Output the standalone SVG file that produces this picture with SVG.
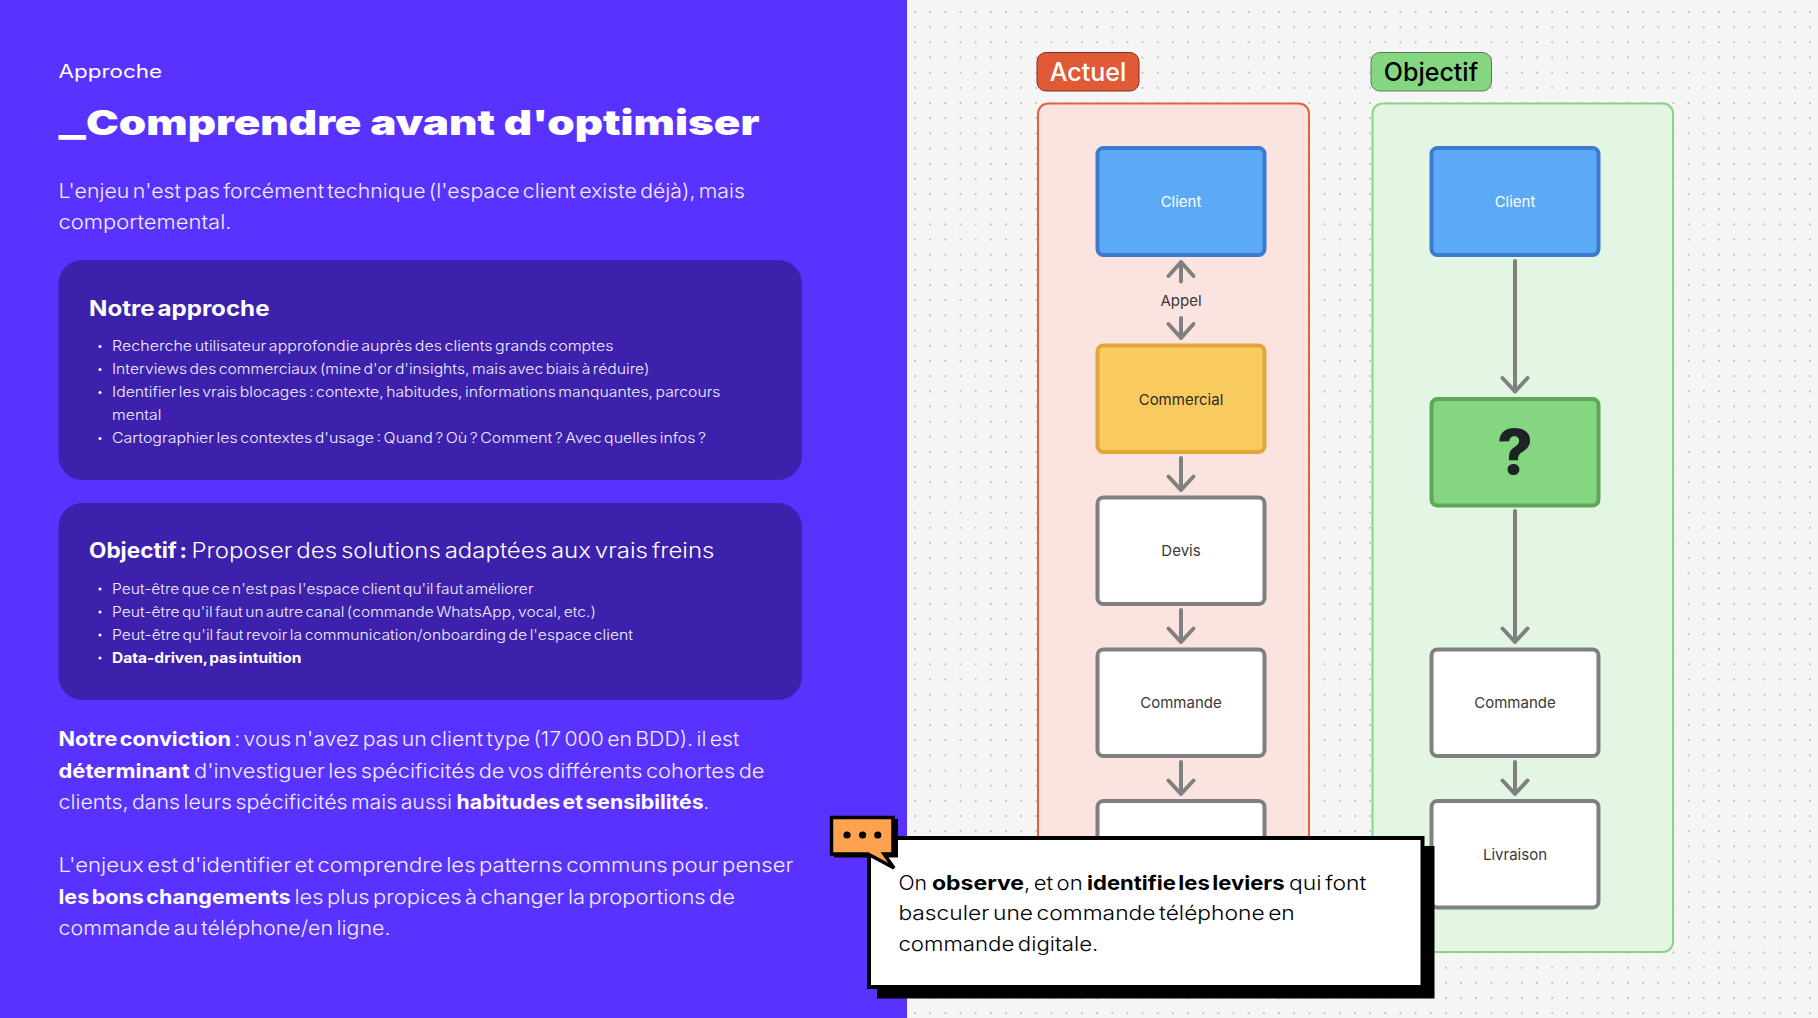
<svg xmlns="http://www.w3.org/2000/svg" width="1818" height="1018" viewBox="0 0 1818 1018">
<style>
text{font-family:Inter,"Liberation Sans",sans-serif}
.w{fill:#fff}
.b{font-size:20px;font-weight:300;fill:#f0edff;word-spacing:-2.5px}
.s{font-size:14.5px;font-weight:300;fill:#f0edff;word-spacing:-1.8px}
.bd{font-weight:700;fill:#fff}
.n{font-size:15px;text-anchor:middle;fill:#383838}
.nw{font-size:15px;text-anchor:middle;fill:#fff}
.card{fill:#3d21ad}
.white{fill:#fff;stroke:#808080;stroke-width:4}
.blue{fill:#5ca9f8;stroke:#3a7bd0;stroke-width:4}
.conn path{fill:none;stroke:#808080;stroke-width:4;stroke-linecap:round;stroke-linejoin:round}
.c{font-size:20px;font-weight:300;fill:#000;word-spacing:-2.5px}
.cb{font-weight:700;fill:#000}
</style>
<defs>
<pattern id="dots" patternUnits="userSpaceOnUse" x="907.4" y="4.4" width="15.17" height="15.17"><circle cx="7.6" cy="7.6" r="1" fill="#b4b4b4"/></pattern>
</defs>
<rect width="1818" height="1018" fill="#f5f5f5"/>
<rect x="907" width="911" height="1018" fill="url(#dots)"/>
<rect width="907" height="1018" fill="#5a32ff"/>

<g id="panel-actuel"><rect x="1038" y="103.500" width="271" height="848.500" rx="10" fill="#fbe3e0" stroke="#e5603c" stroke-width="2"/></g>
<g id="panel-objectif"><rect x="1372.500" y="103.500" width="300.500" height="848.500" rx="10" fill="#e2f6e3" stroke="#86d583" stroke-width="2"/></g>
<g id="label-actuel"><rect x="1037" y="52.500" width="102" height="38.500" rx="9" fill="#e05a36" stroke="#7a3220" stroke-width="1"/><text x="1088" y="81" text-anchor="middle" font-size="25" font-weight="550" fill="#fff">Actuel</text></g>
<g id="label-objectif"><rect x="1371" y="52.500" width="120.500" height="38.500" rx="9" fill="#85d681" stroke="#5c7a5a" stroke-width="1"/><text x="1431" y="81" text-anchor="middle" font-size="25" font-weight="550" fill="#000">Objectif</text></g>

<g id="connectors" class="conn">
<path d="M1181 281.500V262M1168.500 276L1181 262L1193.500 276"/>
<path d="M1181 318V338M1168.500 324L1181 338L1193.500 324"/>
<path d="M1181 458V490M1168.500 476.500L1181 490L1193.500 476.500"/>
<path d="M1181 610V642M1168.500 628.500L1181 642L1193.500 628.500"/>
<path d="M1181 762V794M1168.500 780.500L1181 794L1193.500 780.500"/>
<path d="M1515 261V391.500M1502.500 378L1515 391.500L1527.500 378"/>
<path d="M1515 511V642M1502.500 628.500L1515 642L1527.500 628.500"/>
<path d="M1515 762V794M1502.500 780.500L1515 794L1527.500 780.500"/>
</g>
<text id="label-appel" class="n" x="1181" y="306">Appel</text>

<g id="a-client"><rect class="blue" x="1097.500" y="148" width="167" height="107" rx="6"/><text class="nw" x="1181" y="206.500">Client</text></g>
<g id="a-commercial"><rect x="1097.500" y="345.500" width="167" height="106.500" rx="6" fill="#f9cb5f" stroke="#e0a63c" stroke-width="4"/><text class="n" x="1181" y="404.500" style="fill:#2a2a2a">Commercial</text></g>
<g id="a-devis"><rect class="white" x="1097.500" y="497.500" width="167" height="106.500" rx="6"/><text class="n" x="1181" y="556">Devis</text></g>
<g id="a-commande"><rect class="white" x="1097.500" y="649.500" width="167" height="106.500" rx="6"/><text class="n" x="1181" y="708">Commande</text></g>
<g id="a-livraison"><rect class="white" x="1097.500" y="801" width="167" height="106.500" rx="6"/></g>
<g id="o-client"><rect class="blue" x="1431.500" y="148" width="167" height="107" rx="6"/><text class="nw" x="1515" y="206.500">Client</text></g>
<g id="o-question"><rect x="1431.500" y="399" width="167" height="106.500" rx="6" fill="#85d681" stroke="#5ea65a" stroke-width="4"/><text x="1515" y="474" text-anchor="middle" font-size="62" font-weight="800" fill="#1f2328">?</text></g>
<g id="o-commande"><rect class="white" x="1431.500" y="649.500" width="167" height="106.500" rx="6"/><text class="n" x="1515" y="708">Commande</text></g>
<g id="o-livraison"><rect class="white" x="1431.500" y="801" width="167" height="106.500" rx="6"/><text class="n" x="1515" y="860">Livraison</text></g>

<g id="header">
<text x="58.500" y="78" font-size="18" class="w" textLength="103.500" lengthAdjust="spacingAndGlyphs">Approche</text>
<text y="135" font-size="34.500" font-weight="900" class="w"><tspan x="58.500" textLength="27.500" lengthAdjust="spacingAndGlyphs">_</tspan><tspan x="86" textLength="673.500" lengthAdjust="spacingAndGlyphs">Comprendre avant d'optimiser</tspan></text>
<text class="b" x="58.500" y="197.800" textLength="686.500" lengthAdjust="spacingAndGlyphs">L'enjeu n'est pas forcément technique (l'espace client existe déjà), mais</text>
<text class="b" x="58.500" y="229" textLength="173" lengthAdjust="spacingAndGlyphs">comportemental.</text>
</g>

<g id="card-approche">
<rect class="card" x="58.500" y="260" width="743.500" height="220" rx="24"/>
<text x="89" y="315.700" font-size="21" font-weight="700" class="w" word-spacing="-2.500" textLength="180.500" lengthAdjust="spacingAndGlyphs">Notre approche</text>
<circle cx="100" cy="346.500" r="1.500" fill="#fff"/><text class="s" x="112" y="351.300" textLength="501.500" lengthAdjust="spacingAndGlyphs">Recherche utilisateur approfondie auprès des clients grands comptes</text>
<circle cx="100" cy="369.500" r="1.500" fill="#fff"/><text class="s" x="112" y="374.300" textLength="537.500" lengthAdjust="spacingAndGlyphs">Interviews des commerciaux (mine d'or d'insights, mais avec biais à réduire)</text>
<circle cx="100" cy="392.500" r="1.500" fill="#fff"/><text class="s" x="112" y="397.300" textLength="608.500" lengthAdjust="spacingAndGlyphs">Identifier les vrais blocages : contexte, habitudes, informations manquantes, parcours</text>
<text class="s" x="112" y="420.300" textLength="49.500" lengthAdjust="spacingAndGlyphs">mental</text>
<circle cx="100" cy="438.500" r="1.500" fill="#fff"/><text class="s" x="112" y="443.300" textLength="594" lengthAdjust="spacingAndGlyphs">Cartographier les contextes d'usage : Quand ? Où ? Comment ? Avec quelles infos ?</text>
</g>

<g id="card-objectif">
<rect class="card" x="58.500" y="503" width="743.500" height="197" rx="24"/>
<text y="558.300" font-size="21" class="w" font-weight="300" word-spacing="-2.500"><tspan x="89" font-weight="700" textLength="98" lengthAdjust="spacingAndGlyphs">Objectif :</tspan><tspan x="191.400" textLength="523" lengthAdjust="spacingAndGlyphs">Proposer des solutions adaptées aux vrais freins</tspan></text>
<circle cx="100" cy="589" r="1.500" fill="#fff"/><text class="s" x="112" y="594" textLength="421.500" lengthAdjust="spacingAndGlyphs">Peut-être que ce n'est pas l'espace client qu'il faut améliorer</text>
<circle cx="100" cy="612" r="1.500" fill="#fff"/><text class="s" x="112" y="617" textLength="484" lengthAdjust="spacingAndGlyphs">Peut-être qu'il faut un autre canal (commande WhatsApp, vocal, etc.)</text>
<circle cx="100" cy="635" r="1.500" fill="#fff"/><text class="s" x="112" y="640" textLength="521" lengthAdjust="spacingAndGlyphs">Peut-être qu'il faut revoir la communication/onboarding de l'espace client</text>
<circle cx="100" cy="658" r="1.500" fill="#fff"/><text class="s" x="112" y="663" style="font-weight:700;fill:#fff" textLength="189.500" lengthAdjust="spacingAndGlyphs">Data-driven, pas intuition</text>
</g>

<g id="text-conviction">
<text class="b" y="746"><tspan class="bd" x="58.500" textLength="172.500" lengthAdjust="spacingAndGlyphs">Notre conviction</tspan><tspan x="234.300" textLength="505" lengthAdjust="spacingAndGlyphs">: vous n'avez pas un client type (17 000 en BDD). il est</tspan></text>
<text class="b" y="777.700"><tspan class="bd" x="58.500" textLength="131" lengthAdjust="spacingAndGlyphs">déterminant</tspan><tspan x="194" textLength="570.500" lengthAdjust="spacingAndGlyphs">d'investiguer les spécificités de vos différents cohortes de</tspan></text>
<text class="b" y="809.300"><tspan x="58.500" textLength="393.500" lengthAdjust="spacingAndGlyphs">clients, dans leurs spécificités mais aussi</tspan><tspan class="bd" x="456.600" textLength="247" lengthAdjust="spacingAndGlyphs">habitudes et sensibilités</tspan><tspan x="703.600">.</tspan></text>
<text class="b" x="58.500" y="872.300" textLength="735" lengthAdjust="spacingAndGlyphs">L'enjeux est d'identifier et comprendre les patterns communs pour penser</text>
<text class="b" y="903.700"><tspan class="bd" x="58.500" textLength="232" lengthAdjust="spacingAndGlyphs">les bons changements</tspan><tspan x="294.500" textLength="440.500" lengthAdjust="spacingAndGlyphs">les plus propices à changer la proportions de</tspan></text>
<text class="b" x="58.500" y="935.300" textLength="332" lengthAdjust="spacingAndGlyphs">commande au téléphone/en ligne.</text>
</g>

<g id="callout">
<rect x="877" y="846" width="557.500" height="152.500" fill="#000"/>
<rect x="869" y="838" width="553.500" height="149" fill="#fff" stroke="#000" stroke-width="4"/>
<rect x="834" y="819" width="64" height="38.500" fill="#000"/>
<path d="M831.500 817.500H893V854H884L894 868L868 854H831.500Z" fill="#ffa24f" stroke="#000" stroke-width="3.500"/>
<circle cx="847" cy="835" r="3.600" fill="#000"/><circle cx="862.600" cy="835" r="3.600" fill="#000"/><circle cx="877.800" cy="835" r="3.600" fill="#000"/>
<text class="c" y="890"><tspan x="898.400" textLength="28.600" lengthAdjust="spacingAndGlyphs">On</tspan><tspan class="cb" x="932" textLength="92" lengthAdjust="spacingAndGlyphs">observe</tspan><tspan x="1024" textLength="58.700" lengthAdjust="spacingAndGlyphs">, et on</tspan><tspan class="cb" x="1087" textLength="197.700" lengthAdjust="spacingAndGlyphs">identifie les leviers</tspan><tspan x="1289" textLength="77.400" lengthAdjust="spacingAndGlyphs">qui font</tspan></text>
<text class="c" x="898.400" y="920.200" textLength="396.400" lengthAdjust="spacingAndGlyphs">basculer une commande téléphone en</text>
<text class="c" x="898.400" y="951" textLength="200" lengthAdjust="spacingAndGlyphs">commande digitale.</text>
</g>
</svg>
